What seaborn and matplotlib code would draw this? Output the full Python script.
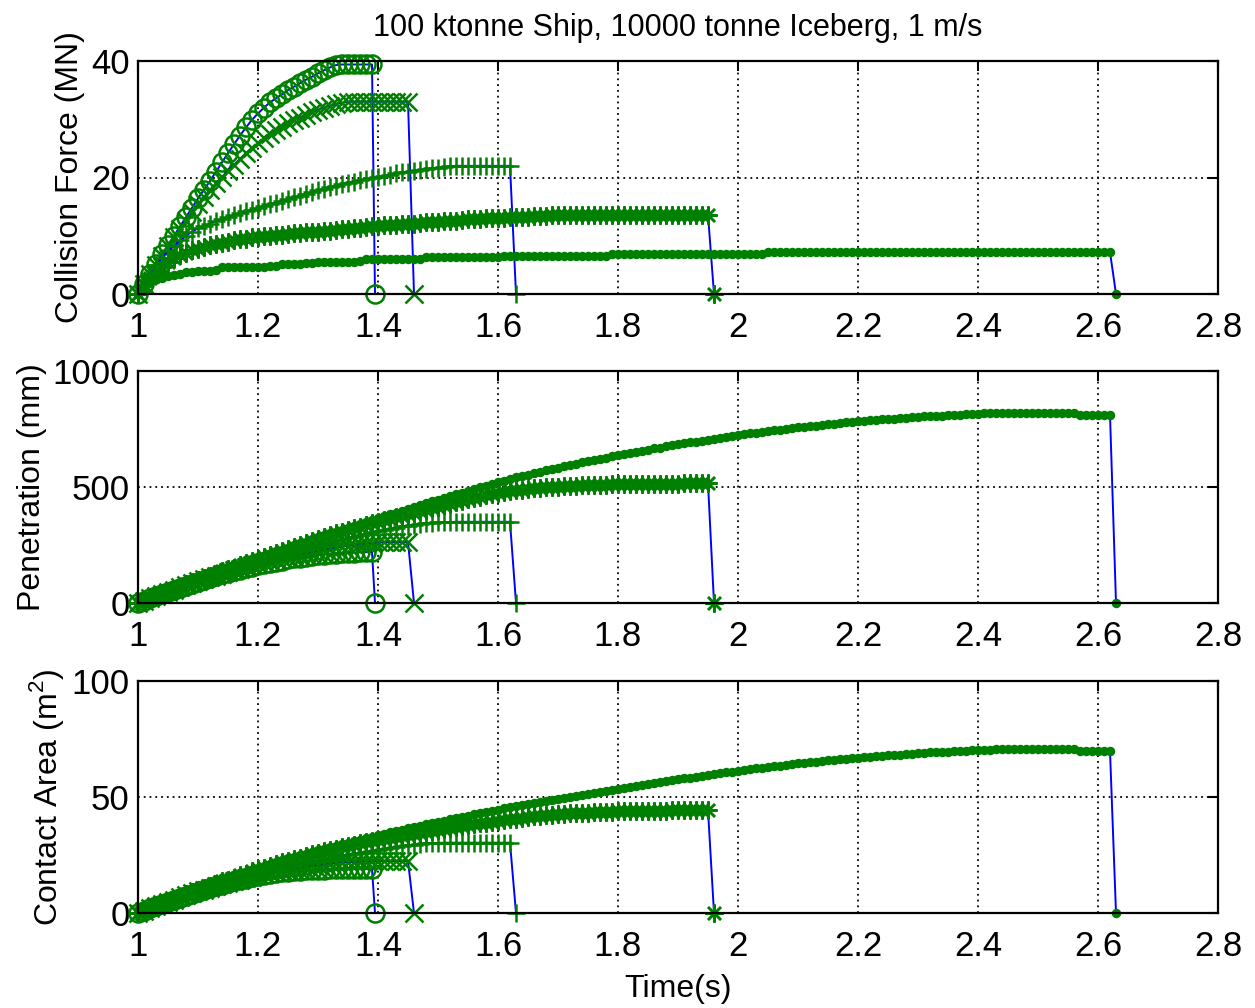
import numpy as np
import matplotlib
matplotlib.use("Agg")
import matplotlib.pyplot as plt
import seaborn as sns

# sample step of every series (s), all series start at t = 1 s
t_step = 0.01
t_start = 1.0
# time at which each series falls back to zero (o, x, +, *, .)
drop_times = [1.395, 1.46, 1.63, 1.96, 2.63]
markers = ["o", "x", "+", (8, 2, 0), "."]

# ---- Collision force (MN) ----
force_o = [0.0, 1.7, 3.4, 5.1, 6.8, 8.4, 10.0, 11.6, 13.2, 14.8,
           16.4, 17.9, 19.4, 21.0, 22.6, 24.2, 25.7, 27.2, 28.6, 29.9,
           31.0, 32.0, 32.9, 33.6, 34.3, 35.0, 35.6, 36.2, 36.8, 37.3,
           37.9, 38.4, 38.9, 39.3, 39.4, 39.4, 39.4, 39.4, 39.4, 39.4]
force_x = [0.0, 1.7, 3.4, 5.0, 6.6, 8.2, 9.7, 11.2, 12.6, 14.0,
           15.4, 16.6, 17.8, 19.0, 20.1, 21.2, 22.2, 23.2, 24.2, 25.1,
           25.9, 26.7, 27.4, 28.1, 28.7, 29.3, 29.8, 30.3, 30.8, 31.2,
           31.6, 32.0, 32.3, 32.6, 32.8, 33.0, 33.0, 33.0, 33.0, 33.0,
           33.0, 33.0, 33.0, 33.0, 33.0, 33.0]
force_plus = [0.0, 1.8, 3.4, 4.9, 6.2, 7.3, 8.3, 9.2, 10.0, 10.7,
              11.3, 11.7, 12.1, 12.5, 12.9, 13.2, 13.6, 13.9, 14.2, 14.5,
              14.8, 15.1, 15.4, 15.7, 16.0, 16.3, 16.6, 16.9, 17.2, 17.5,
              17.8, 18.1, 18.4, 18.6, 18.9, 19.1, 19.3, 19.5, 19.7, 19.9,
              20.1, 20.3, 20.5, 20.7, 20.9, 21.0, 21.2, 21.3, 21.5, 21.6,
              21.7, 21.8, 21.9, 22.0, 22.0, 22.0, 22.0, 22.0, 22.0, 22.0,
              22.0, 22.0, 22.0]
force_star = [0.0, 1.5, 2.7, 3.7, 4.7, 5.5, 6.1, 6.7, 7.1, 7.5,
              7.8, 8.1, 8.4, 8.6, 8.8, 9.0, 9.2, 9.4, 9.5, 9.7,
              9.8, 9.9, 10.0, 10.1, 10.2, 10.3, 10.4, 10.5, 10.6, 10.7,
              10.7, 10.8, 10.9, 11.0, 11.1, 11.2, 11.3, 11.4, 11.5, 11.6,
              11.7, 11.8, 11.8, 11.9, 12.0, 12.1, 12.1, 12.2, 12.3, 12.4,
              12.4, 12.5, 12.6, 12.6, 12.7, 12.8, 12.8, 12.9, 13.0, 13.0,
              13.1, 13.1, 13.2, 13.2, 13.3, 13.3, 13.4, 13.4, 13.4, 13.5,
              13.5, 13.6, 13.6, 13.6, 13.6, 13.6, 13.6, 13.6, 13.6, 13.6,
              13.6, 13.6, 13.6, 13.6, 13.6, 13.6, 13.6, 13.6, 13.6, 13.6,
              13.6, 13.6, 13.6, 13.6, 13.6, 13.6]
force_dot = [0.0, 1.2, 2.0, 2.5, 2.8, 3.1, 3.3, 3.5, 3.7, 3.8,
             3.9, 4.0, 4.0, 4.1, 4.6, 4.6, 4.6, 4.7, 4.7, 4.7,
             4.7, 4.7, 4.8, 4.8, 5.2, 5.2, 5.2, 5.2, 5.3, 5.3,
             5.5, 5.5, 5.5, 5.5, 5.5, 5.5, 5.5, 5.6, 6.0, 6.0,
             6.0, 6.0, 6.0, 6.0, 6.0, 6.0, 6.0, 6.0, 6.3, 6.3,
             6.3, 6.3, 6.3, 6.3, 6.3, 6.3, 6.3, 6.3, 6.3, 6.3,
             6.3, 6.6, 6.6, 6.6, 6.6, 6.6, 6.6, 6.6, 6.6, 6.6,
             6.6, 6.6, 6.6, 6.6, 6.6, 6.6, 6.6, 6.6, 6.6, 6.9,
             6.9, 6.9, 6.9, 6.9, 6.9, 6.9, 6.9, 6.9, 6.9, 6.9,
             6.9, 6.9, 6.9, 6.9, 6.9, 6.9, 6.9, 6.9, 6.9, 6.9,
             6.9, 6.9, 6.9, 6.9, 6.9, 7.2, 7.2, 7.2, 7.2, 7.2,
             7.2, 7.2, 7.2, 7.2, 7.2, 7.2, 7.2, 7.2, 7.2, 7.2,
             7.2, 7.2, 7.2, 7.2, 7.2, 7.2, 7.2, 7.2, 7.2, 7.2,
             7.2, 7.2, 7.2, 7.2, 7.2, 7.2, 7.2, 7.2, 7.2, 7.2,
             7.2, 7.2, 7.2, 7.2, 7.2, 7.2, 7.2, 7.2, 7.2, 7.2,
             7.2, 7.2, 7.2, 7.2, 7.2, 7.2, 7.2, 7.2, 7.2, 7.2,
             7.2, 7.2, 7.2]

# ---- Penetration (mm) ----
pen_o = [0, 10, 20, 30, 39, 48, 57, 66, 75, 84,
         92, 100, 108, 116, 123, 130, 137, 144, 150, 156,
         162, 168, 173, 178, 183, 188, 192, 196, 200, 203,
         206, 209, 211, 213, 215, 216, 217, 218, 219, 220]
pen_x = [0, 10, 20, 30, 40, 49, 58, 67, 76, 85,
         94, 102, 110, 118, 126, 134, 141, 148, 155, 162,
         169, 176, 182, 188, 194, 200, 206, 211, 216, 221,
         226, 231, 235, 239, 243, 247, 251, 254, 257, 259,
         261, 262, 263, 263, 263, 263]
pen_plus = [0, 10, 20, 30, 40, 50, 59, 68, 77, 86,
            95, 104, 113, 121, 129, 137, 145, 153, 161, 168,
            175, 182, 189, 196, 203, 210, 217, 224, 231, 238,
            245, 252, 259, 266, 273, 280, 286, 292, 298, 304,
            310, 315, 320, 325, 330, 334, 338, 342, 344, 346,
            347, 348, 349, 350, 350, 350, 350, 350, 350, 350,
            350, 350, 350]
pen_star = [0, 10, 20, 30, 40, 50, 60, 70, 80, 90,
            100, 109, 118, 127, 136, 145, 153, 162, 171, 179,
            188, 197, 206, 215, 224, 233, 241, 250, 259, 267,
            276, 284, 292, 300, 308, 315, 322, 329, 336, 343,
            350, 357, 364, 370, 377, 383, 390, 396, 402, 409,
            415, 421, 428, 434, 441, 447, 453, 458, 464, 470,
            476, 479, 483, 486, 489, 492, 494, 496, 498, 500,
            502, 503, 504, 506, 507, 508, 509, 510, 510, 511,
            512, 512, 513, 513, 514, 514, 514, 515, 515, 515,
            515, 516, 516, 516, 516, 516]
pen_dot = [0, 10, 21, 31, 41, 51, 61, 72, 82, 92,
           102, 111, 121, 130, 139, 149, 158, 167, 176, 186,
           195, 204, 213, 222, 230, 239, 248, 257, 265, 274,
           283, 291, 300, 308, 316, 325, 333, 341, 349, 358,
           366, 374, 382, 390, 398, 406, 414, 422, 430, 438,
           446, 454, 461, 469, 476, 484, 491, 499, 506, 514,
           521, 528, 534, 541, 547, 553, 559, 566, 572, 578,
           584, 590, 595, 601, 606, 611, 617, 622, 627, 633,
           638, 643, 647, 652, 657, 661, 666, 670, 675, 679,
           684, 688, 692, 696, 700, 704, 708, 712, 716, 720,
           724, 727, 731, 734, 737, 741, 744, 747, 750, 754,
           757, 760, 763, 765, 768, 771, 773, 776, 779, 781,
           784, 786, 788, 790, 792, 794, 795, 797, 799, 801,
           803, 804, 806, 807, 808, 810, 811, 812, 813, 814,
           815, 817, 818, 820, 820, 820, 820, 820, 820, 820,
           820, 820, 820, 820, 820, 820, 820, 812, 812, 812,
           812, 812, 812]

# ---- Contact area (m^2) ----
area_o = [0.0, 1.0, 2.0, 3.0, 3.9, 4.8, 5.7, 6.6, 7.5, 8.4,
          9.2, 10.0, 10.8, 11.5, 12.2, 12.9, 13.6, 14.2, 14.8, 15.4,
          15.9, 16.4, 16.8, 17.2, 17.5, 17.8, 18.0, 18.2, 18.4, 18.5,
          18.6, 18.7, 18.8, 18.8, 18.9, 18.9, 18.9, 19.0, 19.0, 19.0]
area_x = [0.0, 1.0, 2.0, 3.0, 4.0, 4.9, 5.8, 6.7, 7.6, 8.5,
          9.3, 10.1, 10.9, 11.6, 12.3, 13.0, 13.7, 14.4, 15.0, 15.7,
          16.3, 16.9, 17.4, 17.9, 18.4, 18.9, 19.3, 19.7, 20.1, 20.5,
          20.8, 21.1, 21.4, 21.6, 21.8, 22.0, 22.1, 22.2, 22.3, 22.3,
          22.4, 22.4, 22.4, 22.4, 22.4, 22.4]
area_plus = [0.0, 1.0, 2.0, 3.0, 4.0, 5.0, 5.9, 6.8, 7.7, 8.6,
             9.5, 10.3, 11.1, 11.9, 12.7, 13.4, 14.1, 14.8, 15.5, 16.2,
             16.8, 17.4, 18.0, 18.6, 19.2, 19.8, 20.4, 20.9, 21.4, 22.0,
             22.5, 23.0, 23.5, 24.0, 24.5, 25.0, 25.5, 25.9, 26.4, 26.8,
             27.3, 27.7, 28.1, 28.5, 28.9, 29.2, 29.5, 29.8, 30.0, 30.1,
             30.2, 30.3, 30.3, 30.3, 30.3, 30.3, 30.3, 30.3, 30.3, 30.3,
             30.3, 30.3, 30.3]
area_star = [0.0, 1.0, 2.0, 3.0, 4.0, 5.0, 6.0, 7.0, 8.0, 9.0,
             10.0, 10.9, 11.8, 12.7, 13.6, 14.4, 15.3, 16.2, 17.0, 17.9,
             18.8, 19.6, 20.3, 21.1, 21.8, 22.5, 23.2, 23.9, 24.6, 25.3,
             26.0, 26.6, 27.2, 27.8, 28.4, 28.9, 29.5, 30.0, 30.5, 31.0,
             31.5, 32.0, 32.4, 32.9, 33.3, 33.7, 34.1, 34.5, 35.0, 35.4,
             35.8, 36.2, 36.6, 37.0, 37.4, 37.8, 38.2, 38.6, 39.0, 39.4,
             39.8, 40.1, 40.4, 40.7, 41.0, 41.3, 41.6, 41.9, 42.1, 42.3,
             42.5, 42.7, 42.9, 43.0, 43.2, 43.3, 43.4, 43.5, 43.6, 43.7,
             43.8, 43.8, 43.9, 43.9, 44.0, 44.0, 44.1, 44.1, 44.1, 44.2,
             44.2, 44.2, 44.3, 44.3, 44.3, 44.3]
area_dot = [0.0, 1.1, 2.2, 3.2, 4.2, 5.2, 6.2, 7.2, 8.2, 9.2,
            10.2, 11.2, 12.2, 13.2, 14.1, 15.0, 15.9, 16.8, 17.7, 18.6,
            19.5, 20.3, 21.1, 21.9, 22.7, 23.5, 24.2, 24.9, 25.6, 26.3,
            27.0, 27.7, 28.4, 29.0, 29.7, 30.3, 31.0, 31.6, 32.3, 32.9,
            33.5, 34.1, 34.7, 35.3, 35.9, 36.5, 37.0, 37.6, 38.2, 38.7,
            39.3, 39.8, 40.4, 40.9, 41.5, 42.0, 42.5, 43.0, 43.6, 44.1,
            44.6, 45.1, 45.5, 46.0, 46.5, 46.9, 47.4, 47.8, 48.3, 48.7,
            49.2, 49.6, 50.0, 50.4, 50.8, 51.2, 51.7, 52.1, 52.5, 52.9,
            53.3, 53.7, 54.2, 54.6, 55.0, 55.5, 55.9, 56.3, 56.8, 57.2,
            57.6, 58.0, 58.4, 58.7, 59.1, 59.5, 59.8, 60.2, 60.6, 60.9,
            61.3, 61.6, 61.9, 62.3, 62.6, 62.9, 63.2, 63.5, 63.9, 64.2,
            64.5, 64.8, 65.0, 65.3, 65.5, 65.8, 66.0, 66.3, 66.5, 66.8,
            67.0, 67.2, 67.4, 67.6, 67.8, 68.0, 68.1, 68.3, 68.5, 68.7,
            68.9, 69.0, 69.2, 69.3, 69.4, 69.6, 69.7, 69.8, 69.9, 70.1,
            70.2, 70.3, 70.4, 70.5, 70.6, 70.6, 70.6, 70.6, 70.6, 70.6,
            70.6, 70.6, 70.6, 70.6, 70.6, 70.6, 70.6, 69.8, 69.8, 69.8,
            69.8, 69.8, 69.8]

panels = [
    ([force_o, force_x, force_plus, force_star, force_dot],
     "Collision Force (MN)", [0, 20, 40], (0, 40)),
    ([pen_o, pen_x, pen_plus, pen_star, pen_dot],
     "Penetration (mm)", [0, 500, 1000], (0, 1000)),
    ([area_o, area_x, area_plus, area_star, area_dot],
     "Contact Area (m$^2$)", [0, 50, 100], (0, 100)),
]

x_ticks = [1, 1.2, 1.4, 1.6, 1.8, 2, 2.2, 2.4, 2.6, 2.8]
x_ticklabels = ["1", "1.2", "1.4", "1.6", "1.8", "2", "2.2", "2.4", "2.6", "2.8"]

sns.set_theme(style="white")
plt.rcParams['font.family'] = ['Liberation Sans', 'DejaVu Sans']
plt.rcParams['mathtext.fontset'] = 'custom'
plt.rcParams['mathtext.rm'] = 'Liberation Sans'

fig = plt.figure(figsize=(12.55, 10.08), dpi=100)
left, width = 138 / 1255, 1080 / 1255
boxes = [(294, 233), (603, 232), (913, 232)]

for i, (series, ylabel, yticks, ylim) in enumerate(panels):
    bottom_px, h_px = boxes[i]
    ax = fig.add_axes([left, 1 - bottom_px / 1008, width, h_px / 1008])

    for vals, mk, t_drop in zip(series, markers, drop_times):
        t = t_start + t_step * np.arange(len(vals))
        xs = np.append(t, t_drop)
        ys = np.append(np.asarray(vals, dtype=float), 0.0)
        face = "green" if mk == "." else "none"
        ms = 10 if mk == "." else 13
        sns.lineplot(x=xs, y=ys, ax=ax, sort=False, estimator=None,
                     color="blue", linewidth=1.4, marker=mk, markersize=ms,
                     markeredgecolor="green", markerfacecolor=face,
                     markeredgewidth=1.8, clip_on=False, zorder=3)

    ax.set_xlim(1, 2.8)
    ax.set_ylim(*ylim)
    ax.set_xticks(x_ticks)
    ax.set_xticklabels(x_ticklabels)
    ax.set_yticks(yticks)
    ax.grid(True, color="black", linestyle=(0, (1, 2.2)), linewidth=1.3)
    ax.tick_params(direction="in", length=7, width=1.5, top=True, right=True,
                   labelsize=25, colors="black")
    ax.tick_params(axis="x", pad=12)
    ax.tick_params(axis="y", pad=6)
    for sp in ax.spines.values():
        sp.set_color("black")
        sp.set_linewidth(1.6)
        sp.set_zorder(4)
    ax.set_ylabel(ylabel, fontsize=23, color="black", labelpad=4)
    if i == 0:
        ax.set_title("100 ktonne Ship, 10000 tonne Iceberg, 1 m/s",
                     fontsize=22, color="black", pad=18)
    if i == 2:
        ax.set_xlabel("Time(s)", fontsize=23, color="black", labelpad=8)

fig.savefig("out.png", dpi=100)
